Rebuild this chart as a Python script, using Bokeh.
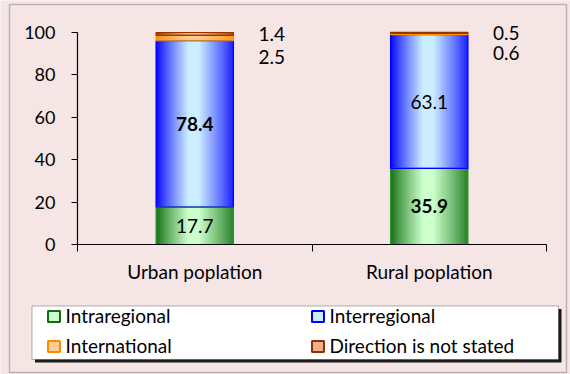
from bokeh.plotting import figure
from bokeh.models import (ColumnDataSource, FixedTicker, Range1d, BoxAnnotation,
                          Legend, LegendItem, LinearAxis)
from bokeh.core.properties import value
from bokeh.embed import file_html
from bokeh.resources import INLINE

# ---------------- data ----------------
categories = ["Urban poplation", "Rural poplation"]
intraregional = [17.7, 35.9]
interregional = [78.4, 63.1]
international = [2.5, 0.6]
not_stated = [1.4, 0.5]
series_names = ["Intraregional", "Interregional", "International", "Direction is not stated"]
intra_bold = [False, True]
inter_bold = [True, False]
y_ticks = [0, 20, 40, 60, 80, 100]

# ---------------- style / layout ----------------
FONT = "Lato"
FS = "19px"
FS_TICK = "18px"
BG = "#f5e5e5"
dark = [(15, 110, 15), (0, 0, 255), (255, 140, 0), (140, 50, 10)]
light = [(204, 255, 204), (204, 238, 255), (255, 205, 150), (240, 175, 135)]
outline = ["#2e9a2e", "#0000ff", "#ff9900", "#993300"]
BAR_W = 0.33
N = 60
W, H = 570, 374
PLOT_L, PLOT_R, PLOT_T, PLOT_B = 77, 546, 32, 244   # pixel box of the value area

ncat = len(categories)
ymax = max(y_ticks)
kx = (PLOT_R - PLOT_L) / ncat
ky = (PLOT_B - PLOT_T) / ymax
x_range = Range1d(-PLOT_L / kx, ncat + (W - PLOT_R) / kx)
y_range = Range1d(-(H - PLOT_B) / ky, ymax + PLOT_T / ky)

p = figure(width=W, height=H, output_backend="svg", toolbar_location=None,
           x_range=x_range, y_range=y_range, x_axis_location=None, y_axis_location=None,
           min_border=0, min_border_left=0, min_border_right=0, min_border_top=0,
           min_border_bottom=0)
p.background_fill_color = BG
p.border_fill_color = BG
p.outline_line_color = None
p.grid.visible = False

xs = [i + 0.5 for i in range(ncat)]
series = [intraregional, interregional, international, not_stated]


def hexc(c):
    return "#%02x%02x%02x" % tuple(int(round(v)) for v in c)


def grad(d, l, t):
    if t < 0.42:
        f = (t / 0.42) ** 0.85
    elif t < 0.55:
        f = 1.0
    else:
        f = 0.12 + 0.88 * ((1 - t) / 0.45) ** 0.9
    return hexc([d[i] + (l[i] - d[i]) * f for i in range(3)])


strips = dict(x=[], w=[], b=[], t=[], c=[])
seg = [dict(x=[], b=[], t=[]) for _ in series]
for ci, xc in enumerate(xs):
    bottom = 0.0
    for si, vals in enumerate(series):
        top = bottom + vals[ci]
        for k in range(N):
            tt = (k + 0.5) / N
            ww = BAR_W / N * (2.0 if k < N - 1 else 1.0)
            strips["x"].append(xc - BAR_W / 2 + k * BAR_W / N + ww / 2)
            strips["w"].append(ww)
            strips["b"].append(bottom)
            strips["t"].append(top)
            strips["c"].append(grad(dark[si], light[si], tt))
        seg[si]["x"].append(xc)
        seg[si]["b"].append(bottom)
        seg[si]["t"].append(top)
        bottom = top

p.vbar(x="x", width="w", bottom="b", top="t", fill_color="c", line_color=None,
       source=ColumnDataSource(strips))
for si in range(len(series)):
    p.vbar(x="x", width=BAR_W, bottom="b", top="t", fill_color=None,
           line_color=outline[si], line_width=1.2, source=ColumnDataSource(seg[si]))

# legend proxies (same segments, hidden; only their legend swatch is drawn)
leg_r = []
for si in range(len(series)):
    r = p.vbar(x="x", width=BAR_W, bottom="b", top="t", fill_color=hexc(light[si]),
               line_color=hexc(dark[si]), line_width=2, source=ColumnDataSource(seg[si]),
               visible=False)
    leg_r.append(r)

# ---------------- labels ----------------
inside = dict(x=[], y=[], text=[], fs=[])
for ci, xc in enumerate(xs):
    inside["x"].append(xc)
    inside["y"].append(intraregional[ci] / 2)
    inside["text"].append(f"{intraregional[ci]:.1f}")
    inside["fs"].append("bold" if intra_bold[ci] else "normal")
    inside["x"].append(xc)
    inside["y"].append(intraregional[ci] + interregional[ci] / 2)
    inside["text"].append(f"{interregional[ci]:.1f}")
    inside["fs"].append("bold" if inter_bold[ci] else "normal")
p.text(x="x", y="y", text="text", text_font_style="fs", source=ColumnDataSource(inside),
       text_font=value(FONT), text_font_size=FS, text_align="center",
       text_baseline="middle", text_color="black")

outside_intl = dict(x=[], y=[], text=[])
outside_ns = dict(x=[], y=[], text=[])
for ci, xc in enumerate(xs):
    base = intraregional[ci] + interregional[ci]
    outside_intl["x"].append(xc + BAR_W / 2)
    outside_intl["y"].append(base + international[ci] / 2)
    outside_intl["text"].append(f"{international[ci]:.1f}")
    outside_ns["x"].append(xc + BAR_W / 2)
    outside_ns["y"].append(base + international[ci] + not_stated[ci] / 2)
    outside_ns["text"].append(f"{not_stated[ci]:.1f}")
p.text(x="x", y="y", text="text", source=ColumnDataSource(outside_intl), x_offset=25,
       y_offset=19, text_font=value(FONT), text_font_size=FS, text_align="left",
       text_baseline="middle", text_color="black")
p.text(x="x", y="y", text="text", source=ColumnDataSource(outside_ns), x_offset=25,
       y_offset=0, text_font=value(FONT), text_font_size=FS, text_align="left",
       text_baseline="middle", text_color="black")

# ---------------- axes ----------------
yax = LinearAxis(fixed_location=0, ticker=FixedTicker(ticks=y_ticks))
yax.axis_line_color = None
yax.major_tick_out = 6
yax.major_tick_in = 0
yax.minor_tick_out = 0
yax.major_tick_line_color = "black"
yax.major_label_text_font = FONT
yax.major_label_text_font_size = FS_TICK
yax.major_label_text_color = "black"
yax.major_label_standoff = 16
p.add_layout(yax, "left")

xax = LinearAxis(fixed_location=0,
                 ticker=FixedTicker(ticks=xs, minor_ticks=list(range(ncat + 1))))
xax.major_label_overrides = {x: c for x, c in zip(xs, categories)}
xax.axis_line_color = None
xax.major_tick_out = 0
xax.major_tick_in = 0
xax.minor_tick_out = 7
xax.minor_tick_in = 0
xax.minor_tick_line_color = "black"
xax.major_label_text_font = FONT
xax.major_label_text_font_size = FS
xax.major_label_text_color = "black"
xax.major_label_standoff = 8
p.add_layout(xax, "below")

# axis lines over the value area only
p.segment(x0=[0, 0], y0=[0, 0], x1=[ncat, 0], y1=[0, ymax], line_color="black",
          line_width=1.2)

# ---------------- frame border and legend box ----------------
def cbox(l, r, t, b, **kw):
    return BoxAnnotation(left=l, right=r, top=t, bottom=b, left_units="canvas",
                         right_units="canvas", top_units="canvas", bottom_units="canvas",
                         **kw)

p.add_layout(cbox(9, 566, 4, 372, fill_color=None, line_color="#3a3a3a", line_width=1.5,
                  level="overlay"))
p.add_layout(cbox(34.5, 561, 308.5, 362, fill_color="#1a1a1a", fill_alpha=1,
                  line_color=None, level="underlay"))
p.add_layout(cbox(31.5, 558, 305.5, 359, fill_color="white", fill_alpha=1,
                  line_color="black", line_width=1, level="underlay"))

for cols, xloc in (((0, 2), 45.5), ((1, 3), 309.5)):
    lg = Legend(items=[LegendItem(label=series_names[i], renderers=[leg_r[i]]) for i in cols],
                location=(xloc, 17), orientation="vertical",
                background_fill_alpha=0, border_line_color=None,
                label_text_font=FONT, label_text_font_size=FS, label_text_color="black",
                glyph_width=15, glyph_height=14, label_height=20, label_standoff=5,
                spacing=7, padding=0, margin=0)
    p.add_layout(lg, "center")

open("out.html", "w").write(file_html(p, INLINE))
